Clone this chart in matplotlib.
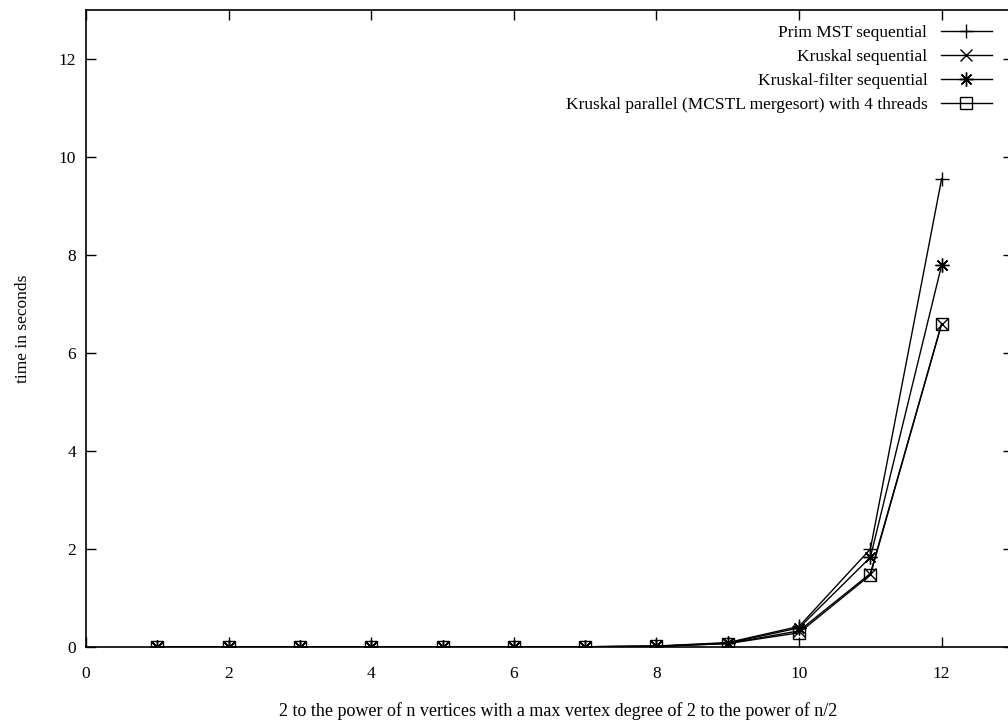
import matplotlib
matplotlib.use("Agg")
import matplotlib.pyplot as plt

plt.rcParams['font.family'] = ['Liberation Serif', 'DejaVu Serif']

x = [1, 2, 3, 4, 5, 6, 7, 8, 9, 10, 11, 12]
prim = [0.0, 0.0, 0.0, 0.0, 0.0, 0.0, 0.005, 0.02, 0.09, 0.42, 2.0, 9.56]
kruskal = [0.0, 0.0, 0.0, 0.0, 0.0, 0.0, 0.005, 0.015, 0.07, 0.33, 1.5, 6.6]
kfilter = [0.0, 0.0, 0.0, 0.0, 0.0, 0.0, 0.005, 0.015, 0.08, 0.39, 1.83, 7.8]
kpar = [0.0, 0.0, 0.0, 0.0, 0.0, 0.0, 0.005, 0.015, 0.07, 0.29, 1.47, 6.6]
labels = ["Prim MST sequential", "Kruskal sequential",
          "Kruskal-filter sequential",
          "Kruskal parallel (MCSTL mergesort) with 4 threads"]
xlabel = "2 to the power of n vertices with a max vertex degree of 2 to the power of n/2"
ylabel = "time in seconds"

fs = 12.5
fig = plt.figure(figsize=(10.08, 7.22), dpi=100)
ax = fig.add_axes([86/1008, 75/722, 927/1008, 637/722])

lw = 1.0
ax.plot(x, prim, color='black', lw=lw, marker='+', ms=10, mew=1.0, label=labels[0])
ax.plot(x, kruskal, color='black', lw=lw, marker='x', ms=8, mew=1.0, label=labels[1])
ax.plot(x, kfilter, color='black', lw=lw, marker=(8, 2, 0), ms=10, mew=1.0, label=labels[2])
ax.plot(x, kpar, color='black', lw=lw, marker='s', ms=8, mew=1.0, mfc='none', label=labels[3])

ax.set_xlim(0, 13)
ax.set_ylim(0, 13)
ax.set_xticks(range(0, 13, 2))
ax.set_yticks(range(0, 13, 2))
ax.tick_params(direction='in', top=True, right=True, length=7, width=1,
               labelsize=fs)
ax.tick_params(axis='x', pad=13.5)
ax.tick_params(axis='y', pad=7)
for s in ax.spines.values():
    s.set_linewidth(1.2)

fig.text(558/1008, 1 - 711/722, xlabel, fontsize=13, ha='center', va='center')
ax.set_ylabel(ylabel, fontsize=fs, labelpad=20)

leg = ax.legend(loc='upper right', bbox_to_anchor=(0.990, 0.995), frameon=False,
                markerfirst=False, fontsize=fs, handlelength=2.9,
                labelspacing=0.45, handletextpad=0.8, borderaxespad=0.3)
for t in leg.get_texts():
    t.set_ha('right')
leg._legend_box.align = "right"

fig.savefig("out.png", dpi=100)
